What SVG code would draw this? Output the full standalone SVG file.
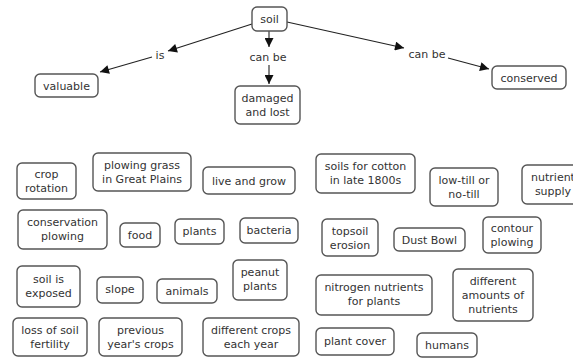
<svg xmlns="http://www.w3.org/2000/svg" width="573" height="358" viewBox="0 0 573 358">
  <defs>
    <marker id="arrow" viewBox="0 0 10 10" refX="10" refY="5" markerWidth="10" markerHeight="9" markerUnits="userSpaceOnUse" orient="auto">
      <path d="M0,0 L10,5 L0,10 z" fill="#111"/>
    </marker>
    <style>
      .node rect { fill: #fff; stroke: #555; stroke-width: 1.4; }
      .node text, .lbl { font-family: "DejaVu Sans", Verdana, sans-serif; font-size: 11px; fill: #333; text-anchor: middle; }
      .link { stroke: #222; stroke-width: 1.1; fill: none; }
      .arr { marker-end: url(#arrow); }
    </style>
  </defs>
  <rect width="573" height="358" fill="#fff"/>

  <!-- connectors and linking phrases -->
  <g id="connectors">
    <line class="link arr" x1="252" y1="24" x2="168" y2="51"/>
    <text class="lbl" x="160" y="59">is</text>
    <line class="link arr" x1="152" y1="57" x2="100" y2="72"/>

    <line class="link arr" x1="269" y1="31" x2="269" y2="47"/>
    <text class="lbl" x="268" y="61">can be</text>
    <line class="link arr" x1="269" y1="65" x2="269" y2="84"/>

    <line class="link arr" x1="287" y1="22" x2="404" y2="48"/>
    <text class="lbl" x="427" y="58">can be</text>
    <line class="link arr" x1="448" y1="58" x2="489" y2="69"/>
  </g>

  <g id="soil" class="node"><rect x="252" y="7" width="35" height="24" rx="5"/><text x="269.5" y="23">soil</text></g>
  <g id="valuable" class="node"><rect x="35" y="74" width="63" height="23" rx="5"/><text x="66.5" y="89.5">valuable</text></g>
  <g id="damaged" class="node"><rect x="235" y="86" width="65" height="38" rx="5"/><text x="267.5" y="102">damaged</text><text x="267.5" y="116">and lost</text></g>
  <g id="conserved" class="node"><rect x="492" y="66" width="74" height="23" rx="5"/><text x="529" y="81.5">conserved</text></g>

  <!-- row 1 -->
  <g id="crop-rotation" class="node"><rect x="17" y="163" width="59" height="36" rx="5"/><text x="46.5" y="178">crop</text><text x="46.5" y="192">rotation</text></g>
  <g id="plowing-grass" class="node"><rect x="93" y="153" width="98" height="38" rx="5"/><text x="142" y="169">plowing grass</text><text x="142" y="183">in Great Plains</text></g>
  <g id="live-grow" class="node"><rect x="203" y="167" width="92" height="27" rx="5"/><text x="249" y="184.5">live and grow</text></g>
  <g id="soils-cotton" class="node"><rect x="316" y="154" width="99" height="39" rx="5"/><text x="365.5" y="170">soils for cotton</text><text x="365.5" y="184">in late 1800s</text></g>
  <g id="low-till" class="node"><rect x="430" y="168" width="68" height="38" rx="5"/><text x="464" y="184">low-till or</text><text x="464" y="198">no-till</text></g>
  <g id="nutrient-supply" class="node"><rect x="522" y="165" width="62" height="39" rx="5"/><text x="553" y="181">nutrient</text><text x="553" y="195">supply</text></g>

  <!-- row 2 -->
  <g id="conservation-plowing" class="node"><rect x="18" y="210" width="89" height="39" rx="5"/><text x="62.5" y="226">conservation</text><text x="62.5" y="240">plowing</text></g>
  <g id="food" class="node"><rect x="120" y="223" width="40" height="24" rx="5"/><text x="140" y="239">food</text></g>
  <g id="plants" class="node"><rect x="175" y="219" width="49" height="25" rx="5"/><text x="199.5" y="235">plants</text></g>
  <g id="bacteria" class="node"><rect x="240" y="218" width="58" height="25" rx="5"/><text x="269" y="234">bacteria</text></g>
  <g id="topsoil-erosion" class="node"><rect x="322" y="219" width="56" height="37" rx="5"/><text x="350" y="235">topsoil</text><text x="350" y="249">erosion</text></g>
  <g id="dust-bowl" class="node"><rect x="394" y="228" width="71" height="23" rx="5"/><text x="429.5" y="243.5">Dust Bowl</text></g>
  <g id="contour-plowing" class="node"><rect x="483" y="217" width="58" height="36" rx="5"/><text x="512" y="232">contour</text><text x="512" y="246">plowing</text></g>

  <!-- row 3 -->
  <g id="soil-exposed" class="node"><rect x="17" y="266" width="63" height="41" rx="5"/><text x="48.5" y="283">soil is</text><text x="48.5" y="297">exposed</text></g>
  <g id="slope" class="node"><rect x="97" y="277" width="46" height="26" rx="5"/><text x="120" y="293">slope</text></g>
  <g id="animals" class="node"><rect x="157" y="279" width="60" height="24" rx="5"/><text x="187" y="295">animals</text></g>
  <g id="peanut-plants" class="node"><rect x="233" y="260" width="54" height="40" rx="5"/><text x="260" y="276">peanut</text><text x="260" y="290">plants</text></g>
  <g id="nitrogen" class="node"><rect x="316" y="275" width="116" height="40" rx="5"/><text x="374" y="291">nitrogen nutrients</text><text x="374" y="305">for plants</text></g>
  <g id="different-amounts" class="node"><rect x="453" y="269" width="80" height="52" rx="5"/><text x="493" y="285">different</text><text x="493" y="299">amounts of</text><text x="493" y="313">nutrients</text></g>

  <!-- row 4 -->
  <g id="loss-fertility" class="node"><rect x="13" y="318" width="74" height="38" rx="5"/><text x="50" y="334">loss of soil</text><text x="50" y="348">fertility</text></g>
  <g id="previous-crops" class="node"><rect x="99" y="318" width="83" height="38" rx="5"/><text x="140.5" y="334">previous</text><text x="140.5" y="348">year's crops</text></g>
  <g id="different-crops" class="node"><rect x="203" y="318" width="96" height="38" rx="5"/><text x="251" y="334">different crops</text><text x="251" y="348">each year</text></g>
  <g id="plant-cover" class="node"><rect x="316" y="328" width="78" height="27" rx="5"/><text x="355" y="345">plant cover</text></g>
  <g id="humans" class="node"><rect x="417" y="333" width="60" height="24" rx="5"/><text x="447" y="349">humans</text></g>
</svg>
